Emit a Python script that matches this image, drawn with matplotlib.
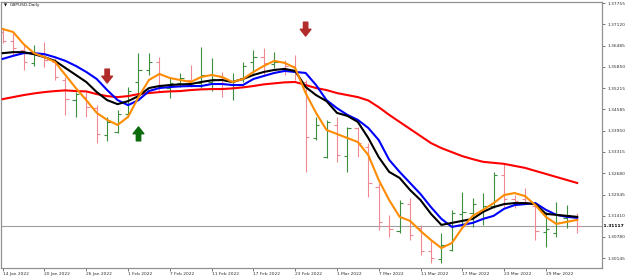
import numpy as np
import matplotlib
matplotlib.use('Agg')
import matplotlib.pyplot as plt

# GBPUSD daily bars, 14 Jan 2022 .. 1 Apr 2022
opens = [1.3689, 1.3662, 1.3635, 1.3597, 1.3617, 1.3600, 1.3546, 1.3486, 1.3495, 1.3462,
         1.3382, 1.3391, 1.3445, 1.3540, 1.3576, 1.3600, 1.3522, 1.3537, 1.3546, 1.3537,
         1.3540, 1.3555, 1.3534, 1.3552, 1.3600, 1.3615, 1.3594, 1.3600, 1.3588, 1.3540,
         1.3373, 1.3316, 1.3412, 1.3319, 1.3403, 1.3346, 1.3227, 1.3111, 1.3096, 1.3176,
         1.3105, 1.3036, 1.3013, 1.3039, 1.3147, 1.3150, 1.3159, 1.3170, 1.3263, 1.3191,
         1.3191, 1.3170, 1.3093, 1.3090, 1.3135, 1.3138]
highs = [1.3701, 1.3689, 1.3650, 1.3650, 1.3659, 1.3612, 1.3555, 1.3510, 1.3510, 1.3471,
         1.3436, 1.3457, 1.3525, 1.3626, 1.3626, 1.3614, 1.3552, 1.3567, 1.3591, 1.3644,
         1.3612, 1.3570, 1.3567, 1.3600, 1.3635, 1.3641, 1.3629, 1.3606, 1.3620, 1.3546,
         1.3436, 1.3427, 1.3436, 1.3406, 1.3406, 1.3358, 1.3239, 1.3144, 1.3188, 1.3194,
         1.3114, 1.3066, 1.3090, 1.3159, 1.3212, 1.3194, 1.3209, 1.3272, 1.3299, 1.3203,
         1.3224, 1.3176, 1.3153, 1.3182, 1.3173, 1.3150]
lows = [1.3656, 1.3620, 1.3576, 1.3588, 1.3585, 1.3546, 1.3442, 1.3436, 1.3436, 1.3358,
        1.3364, 1.3388, 1.3436, 1.3501, 1.3561, 1.3510, 1.3492, 1.3525, 1.3525, 1.3522,
        1.3513, 1.3495, 1.3486, 1.3540, 1.3567, 1.3561, 1.3582, 1.3561, 1.3546, 1.3272,
        1.3367, 1.3313, 1.3302, 1.3272, 1.3316, 1.3197, 1.3099, 1.3078, 1.3090, 1.3069,
        1.3024, 1.3001, 1.3001, 1.3036, 1.3108, 1.3108, 1.3114, 1.3164, 1.3167, 1.3164,
        1.3176, 1.3069, 1.3048, 1.3078, 1.3105, 1.3090]
closes = [1.3662, 1.3641, 1.3600, 1.3623, 1.3606, 1.3555, 1.3489, 1.3504, 1.3465, 1.3385,
          1.3421, 1.3445, 1.3513, 1.3576, 1.3600, 1.3528, 1.3537, 1.3552, 1.3537, 1.3561,
          1.3549, 1.3537, 1.3543, 1.3588, 1.3615, 1.3597, 1.3600, 1.3588, 1.3570, 1.3376,
          1.3412, 1.3421, 1.3322, 1.3403, 1.3358, 1.3239, 1.3123, 1.3102, 1.3179, 1.3084,
          1.3036, 1.3016, 1.3054, 1.3150, 1.3153, 1.3176, 1.3170, 1.3263, 1.3191, 1.3185,
          1.3182, 1.3096, 1.3102, 1.3144, 1.3144, 1.31117]

# moving averages as drawn on the chart
ma_red = [1.3489, 1.3495, 1.3501, 1.3506, 1.3510, 1.3513, 1.3515, 1.3513, 1.3512, 1.3504,
          1.3498, 1.3495, 1.3498, 1.3504, 1.3507, 1.3510, 1.3512, 1.3513, 1.3516, 1.3518,
          1.3519, 1.3519, 1.3521, 1.3524, 1.3528, 1.3533, 1.3536, 1.3539, 1.3540, 1.3531,
          1.3522, 1.3516, 1.3507, 1.3501, 1.3495, 1.3485, 1.3465, 1.3442, 1.3421, 1.3400,
          1.3379, 1.3358, 1.3343, 1.3331, 1.3319, 1.3310, 1.3302, 1.3299, 1.3296, 1.3290,
          1.3284, 1.3275, 1.3266, 1.3257, 1.3248, 1.3239]
ma_blue = [1.3609, 1.3618, 1.3626, 1.3626, 1.3623, 1.3614, 1.3603, 1.3588, 1.3570, 1.3549,
           1.3516, 1.3486, 1.3471, 1.3486, 1.3513, 1.3522, 1.3525, 1.3527, 1.3528, 1.3528,
           1.3534, 1.3534, 1.3531, 1.3531, 1.3549, 1.3558, 1.3567, 1.3573, 1.3570, 1.3567,
           1.3531, 1.3486, 1.3462, 1.3442, 1.3427, 1.3403, 1.3367, 1.3308, 1.3272, 1.3239,
           1.3206, 1.3167, 1.3132, 1.3108, 1.3114, 1.3120, 1.3132, 1.3141, 1.3162, 1.3173,
           1.3176, 1.3179, 1.3159, 1.3144, 1.3138, 1.3135]
ma_black = [1.3626, 1.3629, 1.3629, 1.3623, 1.3614, 1.3603, 1.3582, 1.3561, 1.3540, 1.3510,
            1.3486, 1.3474, 1.3483, 1.3498, 1.3522, 1.3528, 1.3531, 1.3533, 1.3534, 1.3540,
            1.3545, 1.3546, 1.3540, 1.3549, 1.3561, 1.3570, 1.3576, 1.3579, 1.3573, 1.3525,
            1.3501, 1.3483, 1.3448, 1.3439, 1.3421, 1.3373, 1.3316, 1.3272, 1.3254, 1.3218,
            1.3188, 1.3147, 1.3114, 1.3120, 1.3126, 1.3132, 1.3153, 1.3167, 1.3176, 1.3179,
            1.3179, 1.3176, 1.3147, 1.3144, 1.3141, 1.3138]
ma_orange = [1.3698, 1.3689, 1.3653, 1.3626, 1.3614, 1.3600, 1.3561, 1.3522, 1.3486, 1.3448,
             1.3427, 1.3412, 1.3436, 1.3495, 1.3546, 1.3564, 1.3552, 1.3546, 1.3540, 1.3555,
             1.3561, 1.3555, 1.3540, 1.3549, 1.3570, 1.3588, 1.3603, 1.3597, 1.3582, 1.3507,
             1.3448, 1.3397, 1.3385, 1.3373, 1.3361, 1.3322, 1.3248, 1.3188, 1.3138, 1.3126,
             1.3096, 1.3069, 1.3045, 1.3060, 1.3105, 1.3141, 1.3159, 1.3179, 1.3203, 1.3209,
             1.3200, 1.3173, 1.3138, 1.3117, 1.3123, 1.3129]

# signal arrows (bar index, tip price)
sell_idx = [10, 29]
sell_tip = [1.3537, 1.3677]
buy_idx = [13]
buy_tip = [1.3406]

date_idx = [0, 4, 8, 12, 16, 20, 24, 28, 32, 36, 40, 44, 48, 52]
date_labels = ['14 Jan 2022', '20 Jan 2022', '26 Jan 2022', '1 Feb 2022', '7 Feb 2022',
               '11 Feb 2022', '17 Feb 2022', '23 Feb 2022', '1 Mar 2022', '7 Mar 2022',
               '11 Mar 2022', '17 Mar 2022', '23 Mar 2022', '29 Mar 2022']
price_ticks = [1.37755, 1.37120, 1.36485, 1.35850, 1.35215, 1.34585, 1.33950,
               1.33315, 1.32680, 1.32045, 1.31410, 1.30780, 1.30145]
last_price = 1.31117

fig = plt.figure(figsize=(6.25, 2.79), dpi=100)
ax = fig.add_axes([0.002, 0.0394, 0.9616, 0.9534])

x = np.arange(len(closes))
o = np.array(opens)
c = np.array(closes)
up = c >= o
green = '#3d8f3d'
pink = '#f08894'
cols = np.where(up, green, pink)
tw = 0.32
ax.vlines(x, lows, highs, colors=cols, lw=0.8, zorder=2)
ax.hlines(o, x - tw, x, colors=cols, lw=0.8, zorder=2)
ax.hlines(c, x, x + tw, colors=cols, lw=0.8, zorder=2)

ax.axhline(last_price, color='#a0a0a0', lw=0.8, zorder=1)

ax.plot(x, ma_red, color='#ff0000', lw=1.5, zorder=3)
ax.plot(x, ma_blue, color='#0000ff', lw=1.5, zorder=4)
ax.plot(x, ma_black, color='#000000', lw=1.5, zorder=5)
ax.plot(x, ma_orange, color='#ff8c00', lw=1.5, zorder=6)

arrow_style = 'simple,head_width=1.1,head_length=0.7,tail_width=0.45'
for i, p in zip(sell_idx, sell_tip):
    ax.annotate('', xy=(i, p), xytext=(0, 10), textcoords='offset points',
                arrowprops=dict(arrowstyle=arrow_style, color='#b22b2b',
                                mutation_scale=7, shrinkA=0, shrinkB=0), zorder=7)
for i, p in zip(buy_idx, buy_tip):
    ax.annotate('', xy=(i, p), xytext=(0, -10), textcoords='offset points',
                arrowprops=dict(arrowstyle=arrow_style, color='#0b6b0b',
                                mutation_scale=7, shrinkA=0, shrinkB=0), zorder=7)

ax.set_xlim(-0.14, 57.4)
ax.set_ylim(1.29855, 1.37785)

ax.yaxis.tick_right()
ax.set_yticks(price_ticks)
ax.set_yticklabels(['%.5f' % v for v in price_ticks])
ax.set_xticks(date_idx)
ax.set_xticklabels(date_labels, ha='left')
ax.tick_params(axis='both', labelsize=3.2, colors='#606060', labelcolor='#303030',
               length=2, width=0.6, pad=1)
ax.tick_params(axis='y', pad=1.5)

for s in ax.spines.values():
    s.set_color('#909090')
    s.set_linewidth(0.9)

ax.text(1.0, last_price, ' ' + '%.5f' % last_price, transform=ax.get_yaxis_transform(),
        ha='left', va='center', fontsize=3.2, color='#000000', fontweight='bold')

fig.text(0.006, 0.982, '\u25bc', fontsize=2.8, color='#000000', va='center')
fig.text(0.015, 0.982, 'GBPUSD,Daily', fontsize=3.2, color='#202020', va='center')

fig.savefig('out.png', dpi=100)
